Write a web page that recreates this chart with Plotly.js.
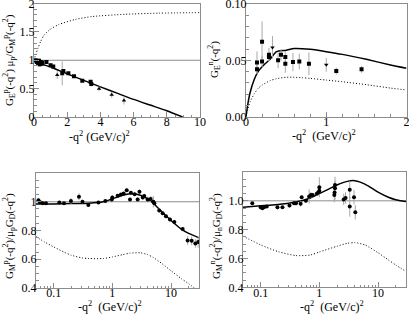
<!DOCTYPE html>
<html>
<head>
<meta charset="utf-8">
<script src="https://cdn.plot.ly/plotly-3.0.1.min.js"></script>
<style>html,body{margin:0;padding:0;background:#fff}#chart{width:409px;height:316px}</style>
</head>
<body>
<div id="chart"></div>
<script>
// ---------- Panel 1: G_E^p mu_p / G_M^p ----------
const gepCurveX  = [0, 0.25, 0.5, 1, 2, 3, 4, 5, 6, 7, 8, 8.95];
const gepSolidY  = [0.98, 0.96, 0.93, 0.88, 0.76, 0.645, 0.53, 0.42, 0.31, 0.21, 0.11, 0];
const gepDotX    = [0, 0.1, 0.25, 0.4, 0.6, 1, 1.5, 2.5, 3.5, 5.5, 7.5, 10];
const gepDotY    = [1.0, 1.1, 1.22, 1.33, 1.44, 1.55, 1.63, 1.72, 1.77, 1.81, 1.83, 1.84];
const gepX   = [0.1, 0.17, 0.25, 0.3, 0.35, 0.4, 0.45, 0.5, 0.75, 1.0, 1.16, 1.7, 1.77, 2.07, 2.41, 2.91, 3.41, 3.45];
const gepY   = [1.0, 0.97, 0.95, 0.99, 0.93, 0.97, 0.94, 0.96, 0.97, 0.91, 0.89, 0.77, 0.81, 0.77, 0.72, 0.64, 0.62, 0.58];
const gepErr = [0.04, 0.05, 0.06, 0.05, 0.05, 0.05, 0.04, 0.04, 0.03, 0.04, 0.03, 0.21, 0.02, 0.02, 0.02, 0.02, 0.03, 0.04];
const gepTriX   = [1.4, 3.92, 4.68, 5.42];
const gepTriY   = [0.74, 0.50, 0.39, 0.29];
const gepTriErr = [0.07, 0.04, 0.05, 0.07];

// ---------- Panel 2: G_E^n ----------
const genCurveX = [0, 0.02, 0.05, 0.1, 0.15, 0.2, 0.3, 0.38, 0.5, 0.6, 0.7, 0.8, 1.0, 1.2, 1.5, 1.8, 2.0];
const genSolidY = [0, 0.01, 0.021, 0.0325, 0.040, 0.0444, 0.051, 0.0577, 0.059, 0.0605, 0.0604, 0.0598, 0.0577, 0.0553, 0.0509, 0.0459, 0.043];
const genDotY   = [0, 0.006, 0.013, 0.020, 0.025, 0.028, 0.032, 0.0337, 0.035, 0.035, 0.0346, 0.034, 0.0325, 0.031, 0.0284, 0.0254, 0.0237];
const genX   = [0.137, 0.137, 0.2, 0.2, 0.286, 0.286, 0.4, 0.436, 0.49, 0.49, 0.585, 0.664, 0.784, 1.125, 1.44];
const genY   = [0.048, 0.042, 0.0665, 0.049, 0.055, 0.053, 0.050, 0.055, 0.053, 0.047, 0.0485, 0.049, 0.047, 0.0405, 0.042];
const genErr = [0.010, 0.004, 0.018, 0.005, 0.006, 0.004, 0.007, 0.005, 0.005, 0.008, 0.008, 0.007, 0.010, 0.003, 0.003];
const genTriX   = [0.33, 1.0];
const genTriY   = [0.0615, 0.046];
const genTriErr = [0.010, 0.006];

// ---------- Panel 3: G_M^p / mu_p G_D ----------
const gmpCurveX = [0.05, 0.1, 0.2, 0.4, 0.7, 1, 1.5, 2, 3, 4, 5, 7, 10, 15, 20, 30];
const gmpSolidY = [0.985, 0.985, 0.987, 0.99, 1.0, 1.02, 1.045, 1.055, 1.045, 1.02, 0.99, 0.93, 0.87, 0.81, 0.78, 0.75];
const gmpDotX   = [0.05, 0.07, 0.1, 0.15, 0.2, 0.3, 0.4, 0.7, 1, 1.5, 2, 3, 4, 5, 7, 10, 15, 20, 25];
const gmpDotY   = [0.757, 0.72, 0.686, 0.65, 0.628, 0.61, 0.605, 0.605, 0.616, 0.632, 0.642, 0.645, 0.632, 0.612, 0.57, 0.52, 0.465, 0.43, 0.40];
const gmpX   = [0.055, 0.058, 0.065, 0.074, 0.125, 0.15, 0.197, 0.27, 0.31, 0.39, 0.58, 0.76, 0.98, 1.0, 1.23, 1.4, 1.56, 1.76, 2.0, 2.07, 2.4, 2.7, 2.9, 3.3, 3.5, 4.0, 4.5, 5.0, 5.2, 6.3, 7.2, 8.2, 9.6, 11.4, 15.8, 19.2, 22.5, 26, 29];
const gmpY   = [1.01, 0.998, 0.99, 0.99, 0.995, 0.99, 1.005, 1.035, 1.0, 0.978, 0.995, 1.005, 1.016, 1.03, 1.042, 1.05, 1.058, 1.08, 1.016, 1.063, 1.053, 1.016, 1.07, 1.03, 1.04, 1.016, 1.02, 1.0, 0.99, 0.94, 0.92, 0.9, 0.877, 0.86, 0.81, 0.73, 0.728, 0.71, 0.72];
const gmpErr = [0.01, 0.008, 0.006, 0.006, 0.008, 0.006, 0.02, 0.025, 0.015, 0.01, 0.008, 0.008, 0.02, 0.015, 0.01, 0.01, 0.01, 0.012, 0.01, 0.012, 0.012, 0.015, 0.015, 0.015, 0.015, 0.02, 0.02, 0.04, 0.02, 0.015, 0.015, 0.015, 0.015, 0.015, 0.015, 0.03, 0.03, 0.03, 0.04];

// ---------- Panel 4: G_M^n / mu_n G_D ----------
const gmnCurveX = [0.05, 0.1, 0.2, 0.3, 0.5, 0.7, 1, 1.5, 2, 3, 4, 5, 7, 10, 15, 20, 30];
const gmnSolidY = [0.955, 0.965, 0.975, 0.983, 1.0, 1.02, 1.05, 1.085, 1.11, 1.135, 1.14, 1.13, 1.1, 1.06, 1.025, 1.008, 0.995];
const gmnDotX   = [0.05, 0.1, 0.2, 0.4, 0.7, 1, 2, 3, 4, 6, 10, 15, 20, 30];
const gmnDotY   = [0.755, 0.694, 0.647, 0.62, 0.624, 0.645, 0.685, 0.705, 0.71, 0.694, 0.64, 0.59, 0.555, 0.51];
const gmnX   = [0.072, 0.1, 0.107, 0.114, 0.127, 0.193, 0.235, 0.31, 0.37, 0.4, 0.48, 0.5, 0.59, 0.67, 0.72, 0.77, 0.91, 0.96, 1.0, 1.0, 1.8, 1.82, 1.85, 1.85, 2.6, 2.8, 3.3, 3.3, 3.9, 4.1];
const gmnY   = [0.983, 0.955, 0.948, 0.955, 0.96, 0.955, 0.955, 0.967, 0.983, 0.983, 0.98, 1.025, 1.0, 1.03, 1.04, 1.04, 1.05, 1.057, 1.094, 1.07, 1.04, 1.057, 1.087, 1.11, 1.01, 1.02, 0.96, 1.076, 1.025, 0.92];
const gmnErr = [0.005, 0.008, 0.008, 0.006, 0.006, 0.015, 0.01, 0.015, 0.012, 0.015, 0.02, 0.012, 0.015, 0.05, 0.02, 0.015, 0.015, 0.015, 0.07, 0.03, 0.05, 0.05, 0.08, 0.03, 0.04, 0.04, 0.07, 0.06, 0.05, 0.05];

// ---------- Tick labels ----------
const p1XTicks = [0, 2, 4, 6, 8, 10];
const p1YTicks = [0, 0.5, 1, 1.5, 2];
const p1YText  = ['0', '0.5', '1', '1.5', '2'];
const p2XTicks = [0, 1, 2];
const p2YTicks = [0, 0.05, 0.1];
const p2YText  = ['0.00', '0.05', '0.10'];
const logTicks = [0.1, 1, 10];
const logText  = ['0.1', '1', '10'];
const logMinor = [0.05,0.06,0.07,0.08,0.09,0.2,0.3,0.4,0.5,0.6,0.7,0.8,0.9,2,3,4,5,6,7,8,9,20,30];
const p3YTicks = [0.4, 0.6, 0.8, 1];
const p3YText  = ['0.4', '0.6', '0.8', '1'];
const p4YText  = ['0.4', '0.6', '0.8', '1.0'];

const FONT = 'Liberation Serif, Times New Roman, serif';
const fnt = {family: FONT, size: 12, color: '#000'};
const tfnt = {family: FONT, size: 11, color: '#000'};
const FRAME = '#8c8c8c';
const ERRC = '#a8a8a8';

function line(x, y, xa, ya, dash, w) {
  return {x, y, xaxis: xa, yaxis: ya, type: 'scatter', mode: 'lines',
          line: {color: '#000', width: w, dash: dash, shape: 'spline', smoothing: 0.6},
          hoverinfo: 'skip', showlegend: false};
}
function pts(x, y, e, xa, ya, sym, sz) {
  return {x, y, xaxis: xa, yaxis: ya, type: 'scatter', mode: 'markers',
          marker: {color: '#000', size: sz || 4, symbol: sym},
          error_y: {type: 'data', array: e, visible: true, color: ERRC, thickness: 1, width: 0},
          showlegend: false};
}
function ax(domain, anchor, isX, extra) {
  return Object.assign({domain, anchor, showline: true, linecolor: FRAME, linewidth: 1, mirror: true,
    ticks: 'inside', ticklen: 5, tickwidth: 1, tickcolor: FRAME, showgrid: false, zeroline: false,
    tickfont: fnt, tickmode: 'array', ticklabelstandoff: isX ? -6 : -4, ticklabeloverflow: 'allow',
    fixedrange: true}, extra);
}

const DOT = '1px,2px';
const data = [
  line(gepDotX, gepDotY, 'x', 'y', DOT, 1),
  line(gepCurveX, gepSolidY, 'x', 'y', 'solid', 1.5),
  pts(gepX, gepY, gepErr, 'x', 'y', 'square', 4),
  pts(gepTriX, gepTriY, gepTriErr, 'x', 'y', 'triangle-up', 4),

  line(genCurveX, genDotY, 'x2', 'y2', DOT, 1),
  line(genCurveX, genSolidY, 'x2', 'y2', 'solid', 1.5),
  pts(genX, genY, genErr, 'x2', 'y2', 'square', 4),
  pts(genTriX, genTriY, genTriErr, 'x2', 'y2', 'triangle-down', 4),

  line(gmpDotX, gmpDotY, 'x3', 'y3', DOT, 1),
  line(gmpCurveX, gmpSolidY, 'x3', 'y3', 'solid', 1.5),
  pts(gmpX, gmpY, gmpErr, 'x3', 'y3', 'circle', 4),

  line(gmnDotX, gmnDotY, 'x4', 'y4', DOT, 1),
  line(gmnCurveX, gmnSolidY, 'x4', 'y4', 'solid', 1.5),
  pts(gmnX, gmnY, gmnErr, 'x4', 'y4', 'circle', 4)
];

const W = 409, H = 316;
const dx = (a, b) => [a / W, b / W];
const dy = (top, bot) => [1 - bot / H, 1 - top / H];
const minorLin = (d) => ({dtick: d, ticks: 'inside', ticklen: 2.5, tickcolor: FRAME});
const minorLog = {tickvals: logMinor, ticks: 'inside', ticklen: 2.5, tickcolor: FRAME};

const xTitle = (txt, xpx, ypx) => ({text: txt, xref: 'paper', yref: 'paper', x: xpx / W, y: 1 - ypx / H,
  xanchor: 'center', yanchor: 'middle', showarrow: false, font: fnt});
const yTitle = (txt, xpx, ypx) => ({text: txt, xref: 'paper', yref: 'paper', x: xpx / W, y: 1 - ypx / H,
  xanchor: 'center', yanchor: 'middle', showarrow: false, textangle: -90, font: tfnt});
const refLine = (xa, ya) => ({type: 'line', xref: xa + ' domain', yref: ya, x0: 0, x1: 1, y0: 1, y1: 1,
  line: {color: FRAME, width: 1}, layer: 'below'});

const qLabel = '-q<sup>2</sup> (GeV/c)<sup>2</sup>';
const qLabel2 = '-q<sup>2</sup>  (GeV/c)<sup>2</sup>';

const layout = {
  width: W, height: H, margin: {l: 0, r: 0, t: 0, b: 0},
  paper_bgcolor: '#fff', plot_bgcolor: '#fff', showlegend: false, font: fnt,
  xaxis:  ax(dx(34, 200), 'y', true, {range: [0, 10], tickvals: p1XTicks, minor: minorLin(0.5)}),
  yaxis:  ax(dy(3.5, 117), 'x', false, {range: [0, 2], tickvals: p1YTicks, ticktext: p1YText, minor: minorLin(0.1)}),
  xaxis2: ax(dx(246, 406.5), 'y2', true, {range: [0, 2], tickvals: p2XTicks, minor: minorLin(0.2)}),
  yaxis2: ax(dy(4, 116.7), 'x2', false, {range: [0, 0.1], tickvals: p2YTicks, ticktext: p2YText, minor: minorLin(0.01)}),
  xaxis3: ax(dx(36, 199), 'y3', true, {type: 'log', range: [Math.log10(0.05), Math.log10(30)], tickvals: logTicks, ticktext: logText, minor: minorLog}),
  yaxis3: ax(dy(173, 288), 'x3', false, {range: [0.4, 1.2], tickvals: p3YTicks, ticktext: p3YText, minor: minorLin(0.05)}),
  xaxis4: ax(dx(243, 406), 'y4', true, {type: 'log', range: [Math.log10(0.05), Math.log10(30)], tickvals: logTicks, ticktext: logText, minor: minorLog}),
  yaxis4: ax(dy(172, 287.3), 'x4', false, {range: [0.4, 1.2], tickvals: p3YTicks, ticktext: p4YText, minor: minorLin(0.05)}),
  shapes: [refLine('x', 'y'), refLine('x3', 'y3'), refLine('x4', 'y4')],
  annotations: [
    xTitle(qLabel, 99, 136),
    xTitle(qLabel2, 324, 135),
    xTitle(qLabel2, 110, 306),
    xTitle(qLabel2, 332, 306),
    yTitle('G<sub>E</sub><sup>p</sup>(-q<sup>2</sup>) μ<sub>p</sub>/G<sub>M</sub><sup>p</sup>(-q<sup>2</sup>)', 9, 60),
    yTitle('G<sub>E</sub><sup>n</sup>(-q<sup>2</sup>)', 214, 60),
    yTitle('G<sub>M</sub><sup>p</sup>(-q<sup>2</sup>)/μ<sub>p</sub>G<sub>D</sub>(-q<sup>2</sup>)', 9, 236),
    yTitle('G<sub>M</sub><sup>n</sup>(-q<sup>2</sup>)/μ<sub>n</sub>G<sub>D</sub>(-q<sup>2</sup>)', 216, 236)
  ]
};

Plotly.newPlot('chart', data, layout, {staticPlot: true, displayModeBar: false});
</script>
</body>
</html>
